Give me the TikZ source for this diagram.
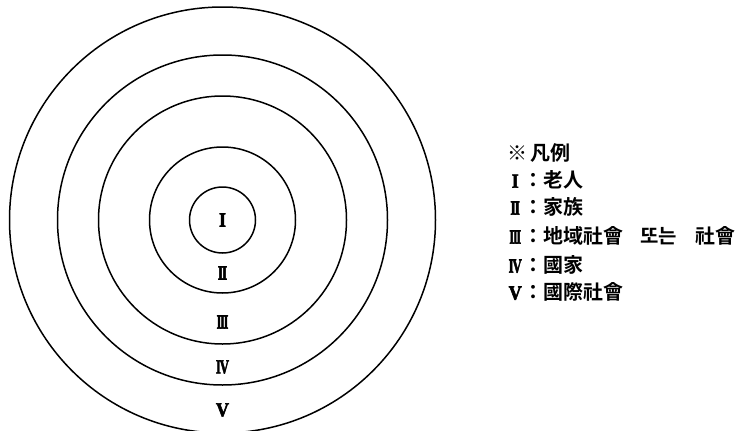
\documentclass[tikz,border=0pt]{standalone}
\usepackage{fontspec}
\usepackage{graphicx}
\setmainfont{Liberation Serif}
\newfontfamily\kr{Noto Sans CJK KR}[BoldFont={* Bold}]
\newfontfamily\romA{Liberation Serif}[UprightFont={* Bold}, FakeBold=3]
\newcommand{\rnum}[2]{\scalebox{#1}[1]{\romA #2}}
\begin{document}
\begin{tikzpicture}[x=1pt,y=-1pt,
  ring/.style={draw,line width=1.5pt},
  rom/.style={font=\fontsize{20}{20}\selectfont,inner sep=0pt},
  leg/.style={anchor=west,inner sep=0pt,font=\fontsize{20}{20}\selectfont}]
\useasboundingbox (0,0) rectangle (747,431);
\coordinate (c) at (222.5,220);
\draw[ring] (c) circle (33);
\draw[ring] (c) circle (73);
\draw[ring] (c) circle (124);
\draw[ring] (c) circle (165);
\draw[ring] (c) circle (213);
\node[rom] (l1) at (222.5,220) {\rnum{0.9}{I}};
\node[rom] (l2) at (222.5,273) {\rnum{0.7}{I\kern-2ptI}};
\node[rom] (l3) at (222.5,322) {\rnum{0.6}{I\kern-2ptI\kern-2ptI}};
\node[rom] (l4) at (222.5,367) {\rnum{0.65}{I\kern-2ptV}};
\node[rom] (l5) at (222.5,410) {\rnum{0.9}{V}};
\node[leg] (h) at (507,153) {\kr\bfseries ※\hspace{3pt}凡例};
\node[leg] (r1) at (507,180) {\makebox[16pt][c]{\rnum{0.9}{I}}{\kr\bfseries ：老人}};
\node[leg] (r2) at (507,207) {\makebox[16pt][c]{\rnum{0.7}{I\kern-2ptI}}{\kr\bfseries ：家族}};
\node[leg] (r3) at (507,236) {\makebox[16pt][c]{\rnum{0.6}{I\kern-2ptI\kern-2ptI}}{\kr\bfseries ：地域社會\hspace{17pt}또는\hspace{18pt}社會}};
\node[leg] (r4) at (507,265) {\makebox[16pt][c]{\rnum{0.65}{I\kern-2ptV}}{\kr\bfseries ：國家}};
\node[leg] (r5) at (507,292) {\makebox[16pt][c]{\rnum{0.9}{V}}{\kr\bfseries ：國際社會}};
\end{tikzpicture}
\end{document}
